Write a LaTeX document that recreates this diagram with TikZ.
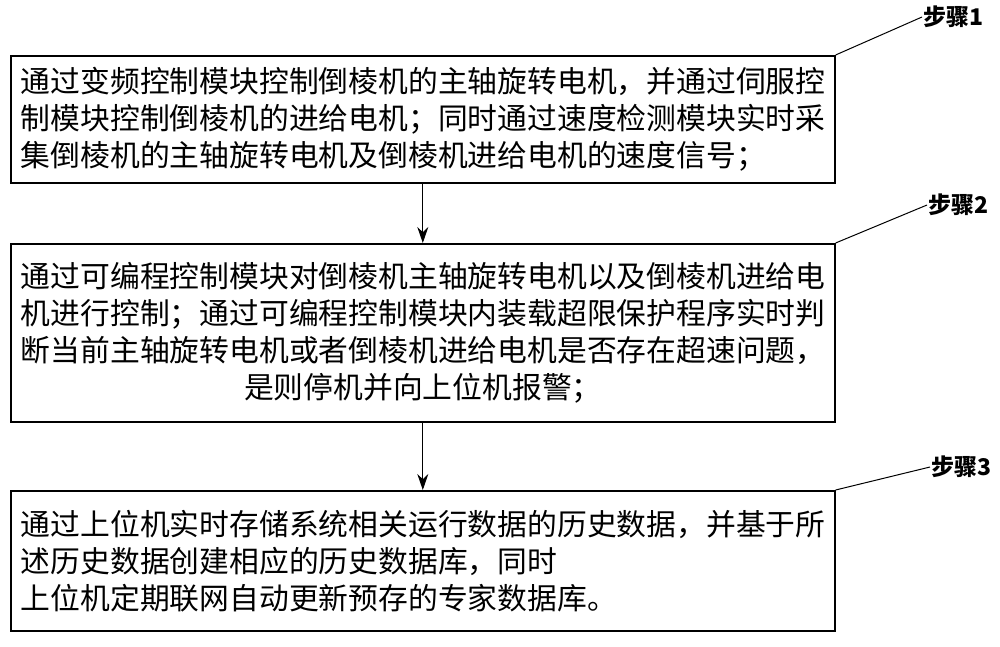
\documentclass[tikz,border=0pt]{standalone}
\usepackage{fontspec}
\usepackage{tikz}
\usetikzlibrary{arrows.meta}
\setmainfont{Liberation Serif}
\newfontfamily\cjk{Noto Sans CJK SC}
\begin{document}
\begin{tikzpicture}[x=1pt,y=-1pt,
  stepbox/.style={draw, line width=1.6pt, minimum width=824pt, inner xsep=10pt, inner ysep=0pt,
    text width=804pt, font=\cjk\fontsize{29.8pt}{37pt}\selectfont, anchor=north west},
  steplabel/.style={font=\cjk\bfseries\fontsize{23pt}{26pt}\selectfont, anchor=west, inner sep=1pt}]
\useasboundingbox (0,0) rectangle (1000,647);
\node[stepbox, align=left, minimum height=127pt] (s1) at (10,55)
  {通过变频控制模块控制倒棱机的主轴旋转电机，并通过伺服控\\制模块控制倒棱机的进给电机；同时通过速度检测模块实时采\\集倒棱机的主轴旋转电机及倒棱机进给电机的速度信号；};
\node[stepbox, align=center, minimum height=178pt] (s2) at (10,243)
  {通过可编程控制模块对倒棱机主轴旋转电机以及倒棱机进给电\\机进行控制；通过可编程控制模块内装载超限保护程序实时判\\断当前主轴旋转电机或者倒棱机进给电机是否存在超速问题，\\是则停机并向上位机报警；};
\node[stepbox, align=left, minimum height=140pt] (s3) at (10,490)
  {通过上位机实时存储系统相关运行数据的历史数据，并基于所\\述历史数据创建相应的历史数据库，同时\\上位机定期联网自动更新预存的专家数据库。};
% step labels
\node[steplabel] (l1) at (922,17) {步骤1};
\node[steplabel] (l2) at (927,205) {步骤2};
\node[steplabel] (l3) at (930,467) {步骤3};
\draw[line width=1pt] (s1.north east) -- (l1.west);
\draw[line width=1pt] (s2.north east) -- (l2.west);
\draw[line width=1pt] (s3.north east) -- (l3.west);
% arrows
\draw[line width=1pt, -{Stealth[length=16pt, width=11pt]}] (s1) -- (s2);
\draw[line width=1pt, -{Stealth[length=16pt, width=11pt]}] (s2) -- (s3);
\end{tikzpicture}
\end{document}
